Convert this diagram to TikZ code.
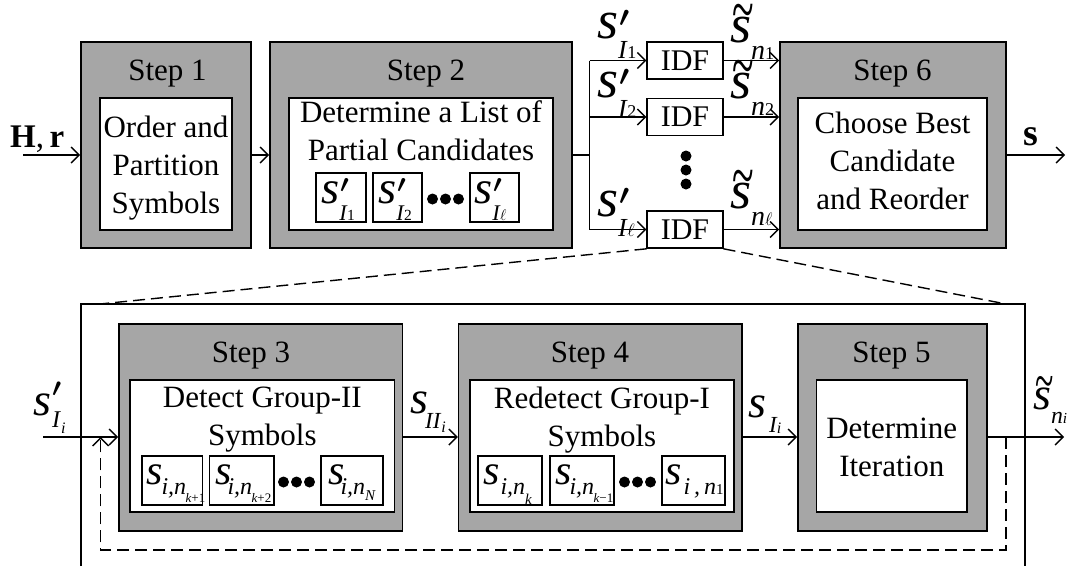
\RequirePackage{fix-cm}
\documentclass[tikz,border=0pt]{standalone}
\usepackage{fontspec}
\setmainfont{Liberation Serif}[ItalicFont={Liberation Serif Italic}, BoldFont={Liberation Serif Bold}]
\newfontfamily\itf{Liberation Serif Italic}
\usepackage{graphicx}
\usetikzlibrary{arrows.meta,calc}
\definecolor{boxgray}{HTML}{A6A6A6}
\newcommand{\fs}[1]{\fontsize{#1}{#1}\selectfont}
\newcommand{\pr}[1]{{\fs{#1}\boldmath$\prime$}}
% s'_{I_{#1}}
\newcommand{\sPI}[1]{\mbox{{\fs{54}\itf s}\rlap{\kern1pt\raisebox{12pt}{\pr{29}}}\raisebox{-20pt}{\fs{26}\itf I}\kern0.5pt\raisebox{-20pt}{\fs{18}#1}}}
% \tilde s_{n_{#1}}
\newcommand{\sTn}[1]{\mbox{\rlap{\kern2.5pt\raisebox{9.5pt}{\scalebox{1.05}[1.8]{\fs{38}\textasciitilde}}}{\fs{54}\itf s}\raisebox{-17pt}{\fs{28}\itf n}\raisebox{-17pt}{\fs{18}#1}}}
% s'_{I_{#1}} (lower row)
\newcommand{\sPIb}[1]{\mbox{{\fs{46}\itf s}\rlap{\kern1pt\raisebox{19pt}{\pr{26}}}\kern1pt\raisebox{-12pt}{\fs{24}\itf I}\kern1pt\raisebox{-18pt}{\fs{16}\itf #1}}}
% general s_{sub_{subsub}}
\newcommand{\sLab}[9]{\mbox{{\fs{#1}\itf s}\kern#2\raisebox{-#3}{\fs{#4}\itf #5}\kern#6\raisebox{-#7}{\fs{#8}#9}}}
\begin{document}
\begin{tikzpicture}[x=1pt,y=-1pt,
  obox/.style={draw=black, line width=1.6pt, fill=boxgray, inner sep=0pt},
  ibox/.style={draw=black, line width=1.6pt, fill=white, inner sep=0pt},
  sbox/.style={draw=black, line width=1.4pt, fill=white, inner sep=0pt, minimum height=49pt},
  idf/.style={draw=black, line width=1.6pt, fill=white, inner sep=0pt, minimum width=75.5pt, minimum height=37pt, font=\fs{30}},
  ttl/.style={font=\fs{31}, anchor=base, inner sep=0pt},
  txt/.style={font=\fontsize{31}{38}\selectfont, align=center, inner sep=0pt},
  lbl/.style={inner sep=0pt, anchor=base west},
  dotc/.style={circle, fill=black, inner sep=0pt, minimum size=11pt},
  conn/.style={line width=1.4pt},
  arr/.style={line width=1.4pt, -{Straight Barb[length=8pt,width=16pt]}},
  dsh/.style={line width=1.4pt, dash pattern=on 12pt off 6pt},
  frame/.style={line width=1.2pt}]
\useasboundingbox (0,0) rectangle (1075,566);

% ---------- top row ----------
\node[obox, minimum width=170pt, minimum height=206pt] (s1o) at (166,145) {};
\node[ibox, minimum width=132pt, minimum height=132pt] (s1i) at (166,164) {};
\node[ttl] (s1t) at (167.5,80) {Step 1};
\node[txt] (s1x) at (166,168) {Order and\\Partition\\Symbols};

\node[obox, minimum width=302pt, minimum height=206pt] (s2o) at (421,145) {};
\node[ibox, minimum width=264pt, minimum height=132pt] (s2i) at (421,164) {};
\node[ttl] (s2t) at (426,80) {Step 2};
\node[txt] (s2x) at (421,130.4) {Determine a List of\\Partial Candidates};
\node[sbox, minimum width=50pt] (c1) at (341,197.5) {};
\node[sbox, minimum width=49pt] (c2) at (397.5,197.5) {};
\node[sbox, minimum width=49pt] (c3) at (494.5,197.5) {};
\node[lbl] (c1l) at (321,203) {\scalebox{0.86}{\sPI{1}}};
\node[lbl] (c2l) at (378,203) {\scalebox{0.86}{\sPI{2}}};
\node[lbl] (c3l) at (474,203) {\scalebox{0.86}{\sPI{$\ell$}}};
\node[dotc] (d21) at (432.5,199) {};
\node[dotc] (d22) at (445.5,199) {};
\node[dotc] (d23) at (458.5,199) {};

\node[idf] (f1) at (685,60.5) {IDF};
\node[idf] (f2) at (685,117) {IDF};
\node[idf] (f3) at (685,229.5) {IDF};
\node[dotc] (v1) at (686,156) {};
\node[dotc] (v2) at (686,170) {};
\node[dotc] (v3) at (686,184) {};

\node[obox, minimum width=226pt, minimum height=206pt] (s6o) at (893,145) {};
\node[ibox, minimum width=189pt, minimum height=132pt] (s6i) at (892.5,164) {};
\node[ttl] (s6t) at (892.5,80) {Step 6};
\node[txt] (s6x) at (892.5,160.4) {Choose Best\\Candidate\\and Reorder};

% top connectors
\coordinate (hin) at (23,155);
\node[lbl, font=\fs{33}] (hr) at (10,147) {\textbf{H},\,\textbf{r}};
\draw[arr] (hin) -- (hin -| s1o.west);
\draw[arr] (s1o.east |- hin) -- (s2o.west |- hin);
\coordinate (br) at (589.5,155);
\draw[conn] (s2o.east |- br) -- (br);
\draw[conn] (br |- f1) -- (br |- f3);
\draw[arr] (br |- f1) -- (f1.west);
\draw[arr] (br |- f2) -- (f2.west);
\draw[arr] (br |- f3) -- (f3.west);
\draw[arr] (f1.east) -- (f1 -| s6o.west);
\draw[arr] (f2.east) -- (f2 -| s6o.west);
\draw[arr] (f3.east) -- (f3 -| s6o.west);
\coordinate (sout) at (1065,155);
\draw[arr] (s6o.east |- sout) -- (sout);
\node[lbl, font=\fs{38}\bfseries] (sl) at (1023,145) {s};

\node[lbl] (l1) at (597,38) {\sPI{1}};
\node[lbl] (l2) at (597,97) {\sPI{2}};
\node[lbl] (l3) at (597,216) {\sPI{$\ell$}};
\node[lbl] (t1) at (730,42) {\sTn{1}};
\node[lbl] (t2) at (730,98) {\sTn{2}};
\node[lbl] (t3) at (730,208) {\sTn{$\ell$}};

% ---------- zoom lines and frame ----------
\coordinate (zl) at (100,304);
\coordinate (zr) at (1006,304);
\draw[dsh] (f3.south west) -- (zl);
\draw[dsh] (f3.south east) -- (zr);
\draw[frame] (81,566) -- (81,304) -- (1025,304) -- (1025,566);

% ---------- bottom row ----------
\node[obox, minimum width=283.5pt, minimum height=207pt] (s3o) at (260.75,427.5) {};
\node[ibox, minimum width=264.6pt, minimum height=132pt] (s3i) at (262.3,446) {};
\node[ttl] (s3t) at (251,362) {Step 3};
\node[txt] (s3x) at (262.3,419.7) {Detect Group-II\\Symbols};
\node[sbox, minimum width=60.5pt] (b31) at (172.25,480.5) {};
\node[sbox, minimum width=64.4pt] (b32) at (241.8,480.5) {};
\node[sbox, minimum width=62pt] (b33) at (352,480.5) {};
\node[dotc] (d31) at (283.5,482) {};
\node[dotc] (d32) at (296.5,482) {};
\node[dotc] (d33) at (309.5,482) {};
\node[lbl] (b31l) at (146,484) {\sLab{42}{-1pt}{10pt}{24}{i,n}{-0.5pt}{18pt}{13}{\itf k\rmfamily +1}};
\node[lbl] (b32l) at (215,484) {\sLab{42}{-4pt}{10pt}{24}{i,n}{-0.5pt}{18pt}{13}{\itf k\rmfamily +2}};
\node[lbl] (b33l) at (328,484) {\sLab{42}{-4pt}{10pt}{24}{i,n}{0pt}{16pt}{15}{\itf N}};

\node[obox, minimum width=283.4pt, minimum height=207pt] (s4o) at (600.3,427.5) {};
\node[ibox, minimum width=264pt, minimum height=132pt] (s4i) at (602,446) {};
\node[ttl] (s4t) at (590,362) {Step 4};
\node[txt] (s4x) at (602,419.7) {Redetect Group-I\\Symbols};
\node[sbox, minimum width=64pt] (b41) at (510,480.5) {};
\node[sbox, minimum width=64pt] (b42) at (582,480.5) {};
\node[sbox, minimum width=63pt] (b43) at (693.5,480.5) {};
\node[dotc] (d41) at (624.5,482) {};
\node[dotc] (d42) at (637.5,482) {};
\node[dotc] (d43) at (650.5,482) {};
\node[lbl] (b41l) at (483,484) {\sLab{42}{1pt}{10pt}{24}{i,n}{0pt}{20pt}{15}{\itf k}};
\node[lbl] (b42l) at (555,484) {\sLab{42}{-2pt}{10pt}{24}{i,n}{-0.5pt}{18pt}{13}{\itf k\rmfamily −1}};
\node[lbl] (b43l) at (665,484) {\sLab{42}{2pt}{10pt}{24}{i\,,\,n}{0pt}{10pt}{15}{\rmfamily 1}};

\node[obox, minimum width=189pt, minimum height=207pt] (s5o) at (892.5,427.5) {};
\node[ibox, minimum width=150.5pt, minimum height=132pt] (s5i) at (891.75,446) {};
\node[ttl] (s5t) at (891.5,362) {Step 5};
\node[txt] (s5x) at (891.75,447.4) {Determine\\Iteration};

% bottom connectors
\coordinate (bin) at (43,437);
\draw[arr] (bin) -- (bin -| s3o.west);
\draw[arr] (s3o.east |- bin) -- (s4o.west |- bin);
\draw[arr] (s4o.east |- bin) -- (s5o.west |- bin);
\coordinate (bout) at (1064,437);
\draw[arr] (s5o.east |- bin) -- (bout);
\coordinate (fbs) at (1006,437);
\coordinate (fbb) at (100.7,550);
\coordinate (fbe) at (100.7,437);
\draw[dsh, -{Straight Barb[length=8pt,width=16pt]}] (fbs) |- (fbb) -- (fbe);

\node[lbl] (lb1) at (33,415) {\sPIb{i}};
\node[lbl] (lb2) at (410,413) {\sLab{46}{-3pt}{15pt}{23}{II}{1pt}{19pt}{16}{\itf i}};
\node[lbl] (lb3) at (748,417) {\sLab{46}{3pt}{15pt}{23}{I}{0pt}{16pt}{16}{\itf i}};
\node[lbl] (lb4) at (1033,409) {\scalebox{0.85}{\sTn{\itf i}}};
\end{tikzpicture}
\end{document}
